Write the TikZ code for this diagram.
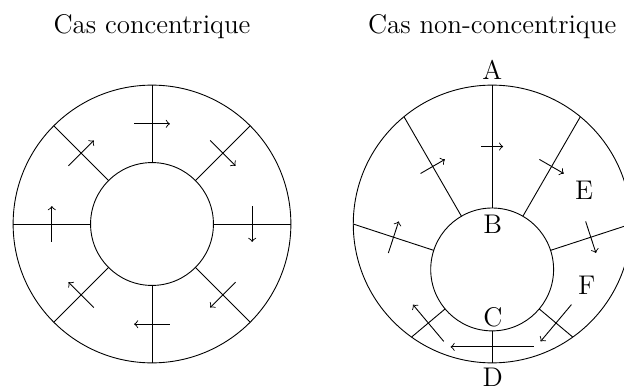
\documentclass[tikz,border=0pt]{standalone}
\usepackage{tikz}
\usetikzlibrary{calc}

\begin{document}
\begin{tikzpicture}[
        font=\large,
        lbl/.style={anchor=base, inner sep=0pt},
        flow/.style={->}
    ]
        \useasboundingbox (0,0) rectangle (9.75,-6.078);
        \def\Rout{2.17}
        \def\Rin{0.96}
        \def\Doff{0.71}
        \coordinate (lc) at (2.375,-3.5);
        \coordinate (oc) at (7.69,-3.5);
        \coordinate (ic) at (7.69,-4.21);

        % cas concentrique
        \node[lbl] (titre1) at (2.375,-0.516) {Cas concentrique};
        \draw (lc) circle (\Rout) (lc) circle (\Rin);
        \foreach \a in {0,45,...,315}{
            \draw ([shift={(\a:\Rin)}]lc) -- ([shift={(\a:\Rout)}]lc);
            \draw[flow] ([shift={(\a:1.565)}]lc) ++(\a+90:0.28) -- ++(\a-90:0.56);
        }

        % cas non-concentrique
        \node[lbl] (titre2) at (7.69,-0.516) {Cas non-concentrique};
        \draw (oc) circle (\Rout) (ic) circle (\Rin);
        \foreach \a/\len in {90/0.344,60/0.44,120/0.44,18.1/0.52,161.9/0.52,-40/0.75,220/0.75,270/1.3}{
            \pgfmathsetmacro\rext{\Doff*sin(\a)+sqrt(\Rout*\Rout-\Doff*\Doff*cos(\a)*cos(\a))}
            \pgfmathsetmacro\rmid{(\rext+\Rin)/2}
            \pgfmathsetmacro\half{\len/2}
            \draw ([shift={(\a:\Rin)}]ic) -- ([shift={(\a:\rext)}]ic);
            \draw[flow] ([shift={(\a:\rmid)}]ic) ++(\a+90:\half) -- ++(\a-90:\len);
        }

        \node[lbl] (A) at (7.69,-1.24) {A};
        \node[lbl] (B) at (7.70,-3.656) {B};
        \node[lbl] (C) at (7.70,-5.10) {C};
        \node[lbl] (D) at (7.70,-6.04) {D};
        \node[lbl] (E) at (9.125,-3.114) {E};
        \node[lbl] (F) at (9.167,-4.594) {F};
    \end{tikzpicture}
\end{document}
